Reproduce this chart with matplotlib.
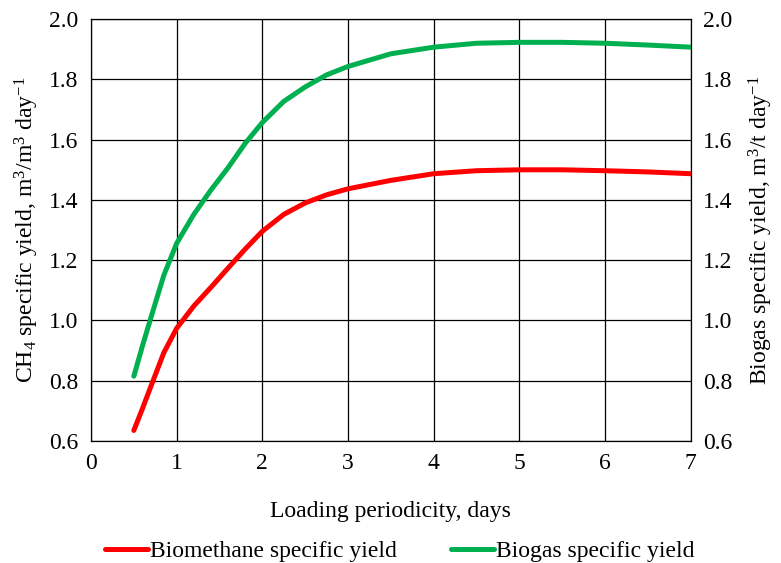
import numpy as np
import matplotlib.pyplot as plt

plt.rcParams['font.family'] = ['Liberation Serif', 'DejaVu Serif']
plt.rcParams['mathtext.fontset'] = 'custom'
plt.rcParams['mathtext.rm'] = 'Liberation Serif'

# loading periodicity, days
days = [0.5, 0.6, 0.7, 0.85, 1.0, 1.2, 1.4, 1.6, 1.8, 2.0, 2.25, 2.5,
        2.75, 3.0, 3.5, 4.0, 4.5, 5.0, 5.5, 6.0, 6.5, 7.0]
# values
biomethane = [0.635, 0.707, 0.782, 0.893, 0.974, 1.048, 1.110, 1.174, 1.237,
              1.296, 1.352, 1.39, 1.417, 1.437, 1.465, 1.487, 1.497, 1.500,
              1.500, 1.497, 1.493, 1.487]
biogas = [0.815, 0.915, 1.01, 1.15, 1.256, 1.352, 1.433, 1.507, 1.588, 1.657,
          1.727, 1.775, 1.815, 1.843, 1.885, 1.907, 1.92, 1.923, 1.923, 1.92,
          1.914, 1.907]

xticks = np.arange(0, 8, 1)
yticks = np.arange(0.6, 2.01, 0.2)

fig = plt.figure(figsize=(7.81, 5.63), dpi=100)
ax = fig.add_axes([0.1165, 0.2167, 0.768, 0.7493])

ax.plot(days, biomethane, color='#FF0000', lw=3.6, solid_capstyle='round',
        solid_joinstyle='round', label='Biomethane specific yield', zorder=3)
ax.plot(days, biogas, color='#00B050', lw=3.6, solid_capstyle='round',
        solid_joinstyle='round', label='Biogas specific yield', zorder=3)

ax.set_xlim(0, 7)
ax.set_ylim(0.6, 2.0)
ax.set_xticks(xticks)
ax.set_yticks(yticks)
ax.set_yticklabels([f'{v:.1f}' for v in yticks])
ax.grid(True, color='black', lw=0.9)
ax.tick_params(length=0, labelsize=17, pad=9)
for s in ax.spines.values():
    s.set_color('black')
    s.set_linewidth(0.9)

ax.set_xlabel('Loading periodicity, days', fontsize=17, labelpad=19)
ax.set_ylabel(r'CH$\mathregular{_4}$ specific yield, m$\mathregular{^3}$/m$\mathregular{^3}$ day$\mathregular{^{-1}}$',
              fontsize=17, labelpad=6)

ax2 = ax.twinx()
ax2.set_ylim(0.6, 2.0)
ax2.set_yticks(yticks)
ax2.set_yticklabels([f'{v:.1f}' for v in yticks])
ax2.tick_params(length=0, labelsize=17, pad=9)
for s in ax2.spines.values():
    s.set_visible(False)
ax2.set_ylabel(r'Biogas specific yield, m$\mathregular{^3}$/t day$\mathregular{^{-1}}$',
               fontsize=17, labelpad=10)

fig.legend(loc='lower center', bbox_to_anchor=(0.512, -0.036), ncol=2,
           frameon=False, fontsize=17, handlelength=1.8, handletextpad=0.1,
           columnspacing=2.3)

fig.savefig('out.png', dpi=100)
